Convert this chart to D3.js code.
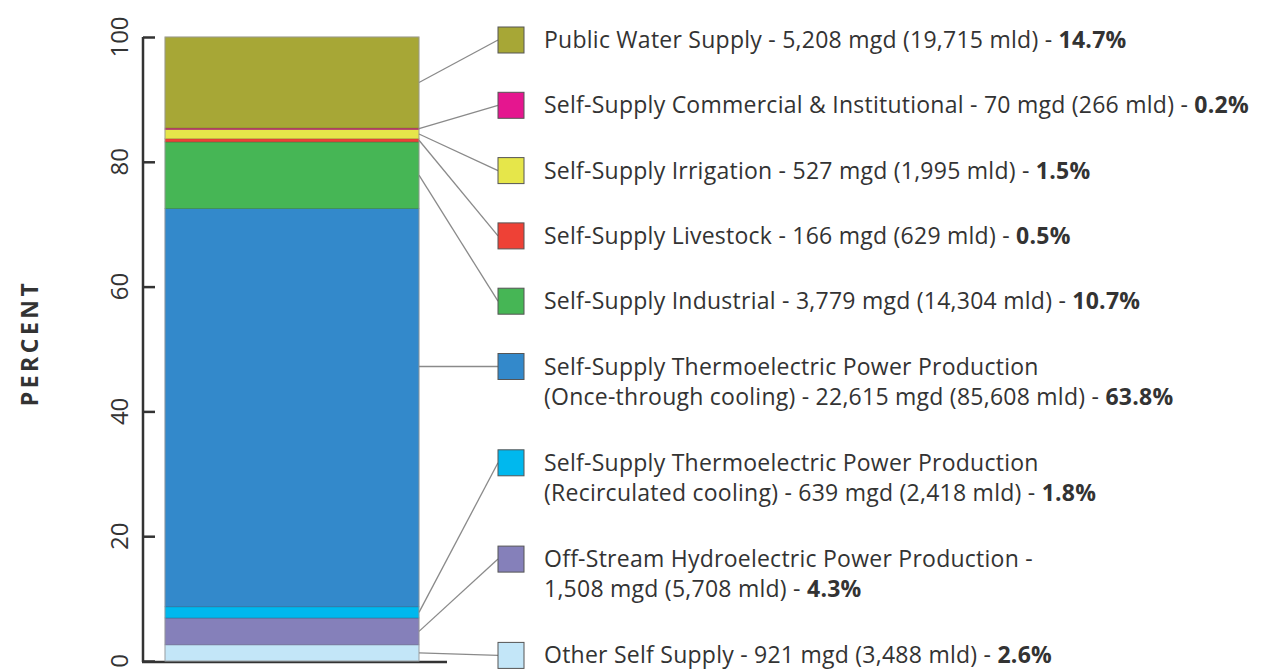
<!DOCTYPE html>
<html>
<head>
<meta charset="utf-8">
<script src="https://cdn.jsdelivr.net/npm/d3@7"></script>
<style>
  body { margin: 0; background: #fff; }
  svg text { font-family: "Open Sans", Lato, sans-serif; fill: #333; }
</style>
</head>
<body>
<div id="chart"></div>
<script>
var width = 1263;
var height = 670;

// data, bottom of the stack first
var categories = [
  "Other Self Supply",
  "Off-Stream Hydroelectric Power Production",
  "Self-Supply Thermoelectric Power Production (Recirculated cooling)",
  "Self-Supply Thermoelectric Power Production (Once-through cooling)",
  "Self-Supply Industrial",
  "Self-Supply Livestock",
  "Self-Supply Irrigation",
  "Self-Supply Commercial & Institutional",
  "Public Water Supply"
];
var percents = [2.6, 4.3, 1.8, 63.8, 10.7, 0.5, 1.5, 0.2, 14.7];
var mgd = ["921", "1,508", "639", "22,615", "3,779", "166", "527", "70", "5,208"];
var mld = ["3,488", "5,708", "2,418", "85,608", "14,304", "629", "1,995", "266", "19,715"];
// legend lines (text before the bold percent), top of legend first
var legendLines = [
  ["Public Water Supply - 5,208 mgd (19,715 mld) - "],
  ["Self-Supply Commercial & Institutional - 70 mgd (266 mld) - "],
  ["Self-Supply Irrigation - 527 mgd (1,995 mld) - "],
  ["Self-Supply Livestock - 166 mgd (629 mld) - "],
  ["Self-Supply Industrial - 3,779 mgd (14,304 mld) - "],
  ["Self-Supply Thermoelectric Power Production", "(Once-through cooling) - 22,615 mgd (85,608 mld) - "],
  ["Self-Supply Thermoelectric Power Production", "(Recirculated cooling) - 639 mgd (2,418 mld) - "],
  ["Off-Stream Hydroelectric Power Production -", "1,508 mgd (5,708 mld) - "],
  ["Other Self Supply - 921 mgd (3,488 mld) - "]
];
var colors = ["#c3e6f8", "#8580ba", "#00b8ee", "#3389cb", "#46b655", "#ee4136", "#e6e64a", "#e5168f", "#a7a736"];
var yTicks = [0, 20, 40, 60, 80, 100];

var svg = d3.select("#chart").append("svg")
  .attr("width", width)
  .attr("height", height);

var y = d3.scaleLinear().domain([0, 100]).range([661, 37]);
var x = d3.scaleBand().domain(["all"]).range([165, 419]).padding(0);

// stack
var segs = [];
var acc = 0;
percents.forEach(function(p, i) {
  segs.push({ i: i, y0: acc, y1: acc + p, color: colors[i], name: categories[i] });
  acc += p;
});
// clip top at 100
segs[segs.length - 1].y1 = Math.min(segs[segs.length - 1].y1, 100);

// axis
var axisG = svg.append("g").attr("transform", "translate(143,0)");
axisG.call(d3.axisRight(y).tickValues(yTicks).tickSize(12).tickFormat(""));
axisG.select(".domain").remove();
axisG.selectAll(".tick line").attr("stroke", "#333").attr("stroke-width", 2.5);
axisG.append("line")
  .attr("x1", 0).attr("x2", 0)
  .attr("y1", y(100)).attr("y2", y(0) + 1)
  .attr("stroke", "#333").attr("stroke-width", 2.5);
svg.append("line")
  .attr("x1", 142).attr("x2", 447)
  .attr("y1", y(0) + 1).attr("y2", y(0) + 1)
  .attr("stroke", "#333").attr("stroke-width", 2.5);

svg.selectAll(".ylab")
  .data(yTicks)
  .enter().append("text")
  .attr("class", "ylab")
  .attr("transform", function(d) { return "translate(128," + y(d) + ") rotate(-90)"; })
  .attr("text-anchor", "middle")
  .attr("font-size", 24)
  .text(function(d) { return d; });

svg.append("text")
  .attr("transform", "translate(30,343) rotate(-90)")
  .attr("dy", "0.35em")
  .attr("text-anchor", "middle")
  .attr("font-size", 23)
  .attr("font-weight", "bold")
  .attr("letter-spacing", "3.5px")
  .text("PERCENT");

// bar
svg.selectAll(".seg")
  .data(segs)
  .enter().append("rect")
  .attr("class", "seg")
  .attr("x", x("all"))
  .attr("width", x.bandwidth())
  .attr("y", function(d) { return y(d.y1); })
  .attr("height", function(d) { return y(d.y0) - y(d.y1); })
  .attr("fill", function(d) { return d.color; })
  .attr("stroke", function(d) { return d3.rgb(d.color).darker(1.2); })
  .attr("stroke-opacity", 0.6)
  .attr("stroke-width", 0.8);

svg.append("rect")
  .attr("x", x("all")).attr("width", x.bandwidth())
  .attr("y", y(100)).attr("height", y(0) - y(100))
  .attr("fill", "none").attr("stroke", "#aaa").attr("stroke-width", 0.8);

// legend rows (top first)
var rows = segs.slice().reverse();
var ly = 40;
rows.forEach(function(d, k) {
  d.lines = legendLines[k];
  d.ly = ly;
  ly += 65.3 + 31 * (d.lines.length - 1);
});

var boxX = 498, boxS = 26, textX = 544;
var bx = x("all") + x.bandwidth();

svg.selectAll(".leader")
  .data(rows)
  .enter().append("line")
  .attr("class", "leader")
  .attr("x1", bx)
  .attr("y1", function(d) {
    var top = y(d.y1), bot = y(d.y0);
    // large segment: run the leader straight across
    if (bot - top > 200 && d.ly > top && d.ly < bot) return d.ly;
    return (top + bot) / 2;
  })
  .attr("x2", boxX)
  .attr("y2", function(d) { return d.ly; })
  .attr("stroke", "#8a8a8a")
  .attr("stroke-width", 1.3);

var leg = svg.selectAll(".leg")
  .data(rows)
  .enter().append("g")
  .attr("class", "leg")
  .attr("transform", function(d) { return "translate(0," + d.ly + ")"; });

leg.append("rect")
  .attr("x", boxX).attr("y", -boxS / 2)
  .attr("width", boxS).attr("height", boxS)
  .attr("fill", function(d) { return d.color; })
  .attr("stroke", "#555").attr("stroke-width", 1);

leg.each(function(d) {
  var g = d3.select(this);
  d.lines.forEach(function(line, j) {
    var t = g.append("text")
      .attr("x", textX)
      .attr("y", j * 30)
      .attr("dy", "0.35em")
      .attr("font-size", 23)
      .attr("letter-spacing", "0.25px");
    t.append("tspan").text(line);
    if (j === d.lines.length - 1) {
      t.append("tspan").attr("font-weight", "bold").text(percents[d.i].toFixed(1) + "%");
    }
  });
});
</script>
</body>
</html>
